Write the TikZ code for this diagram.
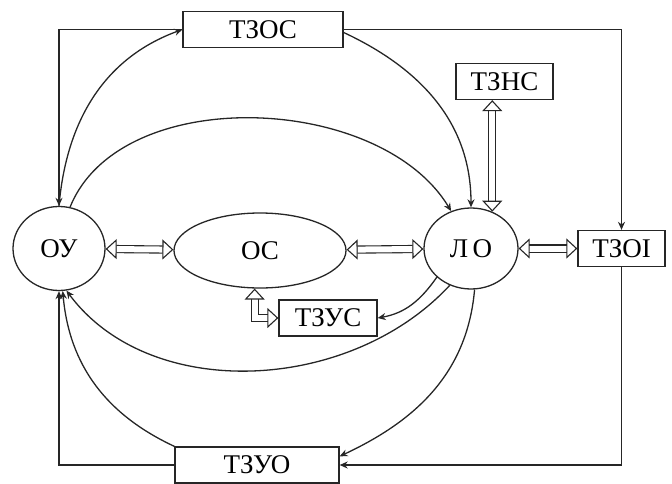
\documentclass[tikz,border=0pt]{standalone}
\usepackage{fontspec}
\setmainfont{Liberation Serif}
\usetikzlibrary{shapes.geometric,arrows.meta}

\begin{document}
\begin{tikzpicture}
[
	x=1pt, y=1pt,
	line width=1.3pt,
	draw=black!85,
	every node/.style={font=\fontsize{27}{30}\selectfont},
	blob/.style={ellipse,draw,inner sep=0pt},
	blk/.style={rectangle,draw,inner sep=0pt,minimum height=36pt},
	arr/.style={-{Stealth[length=8pt,width=7pt]}},
	dblarr/.style={double,double distance=6pt,line width=1.1pt,
	  {Triangle[open,length=11pt,width=20pt]}-{Triangle[open,length=11pt,width=20pt]}}
]
	\useasboundingbox (0,0) rectangle (672,483);

	% main objects
	\node[blob,minimum width=92pt,minimum height=84pt] (oy) at (59,234.5) {ОУ};
	\node[blob,minimum width=172pt,minimum height=75pt] (os) at (260,232.5) {ОС};
	\node[blob,minimum width=94pt,minimum height=81pt] (lo) at (471,234.5) {Л\,О};

	% blocks
	\node[blk,minimum width=160pt] (tzos) at (263,453.5) {ТЗОС};
	\node[blk,minimum width=97pt] (tzns) at (504.5,401.5) {ТЗНС};
	\node[blk,minimum width=87pt] (tzoi) at (621.5,234.5) {ТЗОІ};
	\node[blk,minimum width=98pt] (tzus) at (328,165) {ТЗУС};
	\node[blk,minimum width=164pt] (tzuo) at (257,18) {ТЗУО};

	% double arrows
	\draw[dblarr] (oy) -- (os);
	\draw[dblarr] (os) -- (lo);
	\draw[dblarr] (lo) -- (tzoi);
	\draw[dblarr] (tzns.south -| lo.60) -- (lo.60);
	\draw[dblarr] (os.262) |- (tzus.west);

	% upper links
	\draw[arr] (tzos.west) -| (oy.north);
	\draw[arr] (oy.north) to[out=85,in=200] (tzos.west);
	\draw[arr] (tzos.east) -| (tzoi.north);
	\draw[arr] ([yshift=-3pt]tzos.east) to[out=-25,in=90] (lo.north);
	\draw[arr] (oy.75) .. controls (120,400) and (380,390) .. (lo.118);

	% lower links
	\draw[arr] (lo.220) to[out=235,in=10] (tzus.east);
	\draw[arr] (lo.240) .. controls (350,90) and (150,80) .. (oy.-80);
	\draw[arr] (lo.-85) to[out=-95,in=25] (tzuo.6);
	\draw[arr] (tzoi.south) |- (tzuo.east);
	\draw[arr] (tzuo.west) -| (oy.south);
	\draw[arr] (tzuo.north west) to[out=155,in=-85] (oy.-85);

\end{tikzpicture}
\end{document}
